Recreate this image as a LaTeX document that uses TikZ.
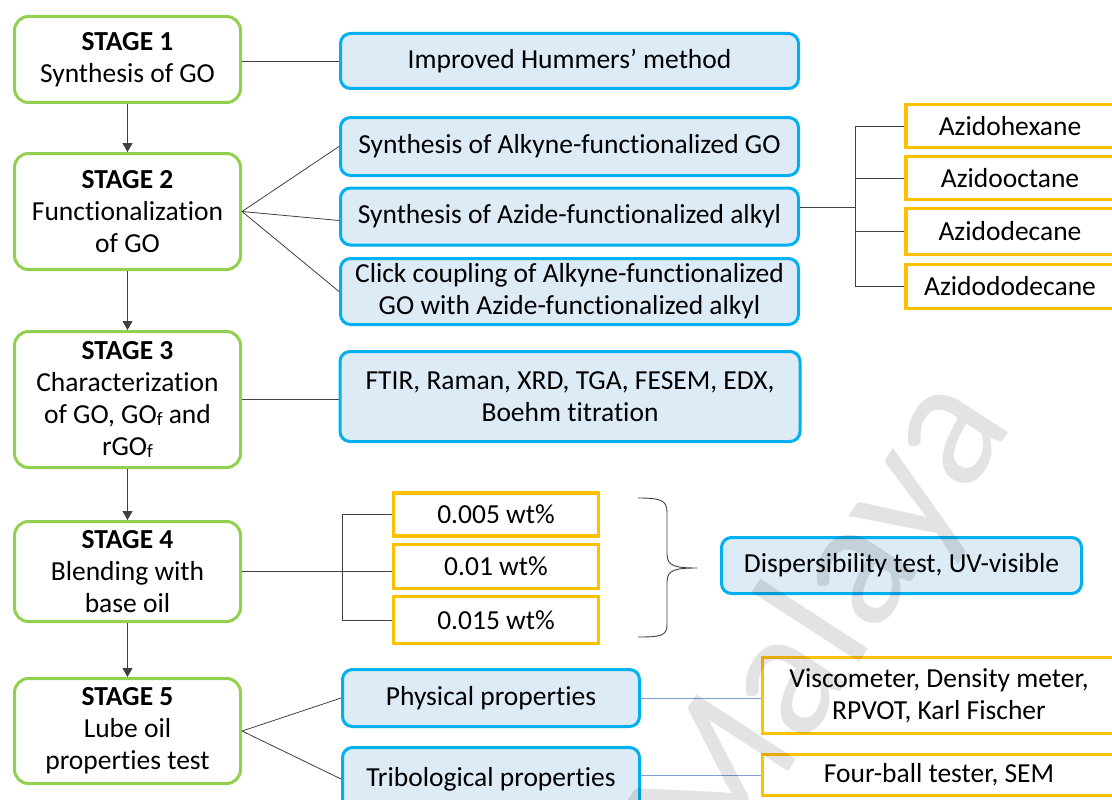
\documentclass[tikz,border=0pt]{standalone}
\usepackage{fontspec}
\setmainfont{Carlito}[Ligatures=NoCommon]
\usetikzlibrary{arrows.meta}
\definecolor{stgreen}{HTML}{92D050}
\definecolor{cyanb}{HTML}{00B0F0}
\definecolor{lblue}{HTML}{DDEBF7}
\definecolor{orng}{HTML}{FFC000}
\definecolor{conncol}{HTML}{404040}
\definecolor{blueconn}{HTML}{7F9FD3}
\newcommand{\subf}{\raisebox{-2pt}{\fontsize{19}{19}\selectfont f}}
\begin{document}
\begin{tikzpicture}[x=1pt,y=-1pt,
  every node/.style={font=\fontsize{27.5}{32}\selectfont, align=center, inner sep=0pt},
  stagebox/.style={draw=stgreen, line width=3pt, rounded corners=14pt, fill=white, minimum width=226pt},
  bluebox/.style={draw=cyanb, fill=lblue, line width=3pt, rounded corners=10pt},
  orangebox/.style={draw=orng, fill=white, line width=3.5pt},
  conn/.style={draw=conncol, line width=0.8pt},
  bconn/.style={draw=blueconn, line width=0.9pt},
  arr/.style={draw=conncol, line width=0.9pt, -{Triangle[width=10pt,length=9pt]}}
]
\useasboundingbox (0,0) rectangle (1112,800);
\clip (0,0) rectangle (1112,800);
\fill[white] (0,0) rectangle (1112,800);

% stage boxes
\node[stagebox, minimum height=86pt] (s1) at (127.5,59.5) {\textbf{STAGE 1}\\Synthesis of GO};
\node[stagebox, minimum height=116pt] (s2) at (127.5,211.5) {\textbf{STAGE 2}\\Functionalization\\of GO};
\node[stagebox, minimum height=136pt] (s3) at (127.5,399.5) {\textbf{STAGE 3}\\Characterization\\of GO, GO\subf{} and\\rGO\subf};
\node[stagebox, minimum height=100pt] (s4) at (127.5,571.5) {\textbf{STAGE 4}\\Blending with\\base oil};
\node[stagebox, minimum height=105pt] (s5) at (127.5,731) {\textbf{STAGE 5}\\Lube oil\\properties test};

% blue boxes
\node[bluebox, minimum width=458pt, minimum height=55pt] (b1) at (569.5,61) {Improved Hummers’ method};
\node[bluebox, minimum width=458pt, minimum height=58pt] (b2) at (569.5,146.5) {Synthesis of Alkyne-functionalized GO};
\node[bluebox, minimum width=458pt, minimum height=57pt] (b3) at (569.5,216.5) {Synthesis of Azide-functionalized alkyl};
\node[bluebox, minimum width=458pt, minimum height=66pt] (b4) at (569.5,291.5) {Click coupling of Alkyne-functionalized\\GO with Azide-functionalized alkyl};
\node[bluebox, minimum width=460pt, minimum height=90pt] (b5) at (570,396.5) {FTIR, Raman, XRD, TGA, FESEM, EDX,\\Boehm titration};
\node[bluebox, minimum width=360pt, minimum height=56pt] (b6) at (901.5,565.5) {Dispersibility test, UV-visible};
\node[bluebox, minimum width=297pt, minimum height=57pt] (b7) at (491,698) {Physical properties};
\node[bluebox, minimum width=297pt, minimum height=63pt] (b8) at (491,779) {Tribological properties};

% orange boxes: azides
\node[orangebox, minimum width=208pt, minimum height=43pt] (o1) at (1010,126) {Azidohexane};
\node[orangebox, minimum width=208pt, minimum height=43pt] (o2) at (1010,178) {Azidooctane};
\node[orangebox, minimum width=208pt, minimum height=46pt] (o3) at (1010,231.5) {Azidodecane};
\node[orangebox, minimum width=208pt, minimum height=44pt] (o4) at (1010,286.5) {Azidododecane};

% orange boxes: concentrations
\node[orangebox, minimum width=205pt, minimum height=43pt] (p1) at (496,514.5) {0.005 wt\%};
\node[orangebox, minimum width=205pt, minimum height=44pt] (p2) at (496,566.5) {0.01 wt\%};
\node[orangebox, minimum width=205pt, minimum height=47pt] (p3) at (496,620) {0.015 wt\%};

% orange boxes: methods
\node[orangebox, minimum width=353pt, minimum height=76pt] (v) at (939,695.5) {Viscometer, Density meter,\\RPVOT, Karl Fischer};
\node[orangebox, minimum width=353pt, minimum height=41pt] (f) at (939,775) {Four-ball tester, SEM};

% arrows between stages
\draw[arr] (s1.south) -- (s2.north);
\draw[arr] (s2.south) -- (s3.north);
\draw[arr] (s3.south) -- (s4.north);
\draw[arr] (s4.south) -- (s5.north);

% connectors
\draw[conn] (s1.east |- b1.west) -- (b1.west);
\draw[conn] (s2.east) -- (b2.west);
\draw[conn] (s2.east) -- ([yshift=-4pt]b3.west);
\draw[conn] (s2.east) -- (b4.west);
\draw[conn] (s3.east) -- (s3.east -| b5.west);
\draw[conn] (s5.east) -- (b7.west);
\draw[conn] (s5.east) -- (b8.west);

\coordinate (jx) at (855,207);
\draw[conn] (b3.east |- jx) -- (jx);
\draw[conn] (o1.west) -- (o1.west -| jx) -- (o4.west -| jx) -- (o4.west);
\draw[conn] (o2.west) -- (o2.west -| jx);
\draw[conn] (o3.west) -- (o3.west -| jx);

\coordinate (px) at (342,0);
\draw[conn] (s4.east) -- (s4.east -| p2.west);
\draw[conn] (p1.west) -- (p1.west -| px) -- (p3.west -| px) -- (p3.west);

% brace
\draw[conn, line width=0.9pt] (638,498) .. controls (660,498) and (667,500) .. (667,512) -- (667,554) .. controls (667,566) and (675,568) .. (697,568)
  .. controls (675,568) and (667,570) .. (667,582) -- (667,625) .. controls (667,636) and (660,637) .. (638,637);

\draw[bconn] (b7.east) -- (b7.east -| v.west);
\draw[bconn] (b8.east |- f.west) -- (f.west);

% watermark
\node[rotate=57, text=black, opacity=0.11, font=\fontsize{185}{185}\selectfont] (wm) at (825,625) {Malaya};
\end{tikzpicture}
\end{document}
